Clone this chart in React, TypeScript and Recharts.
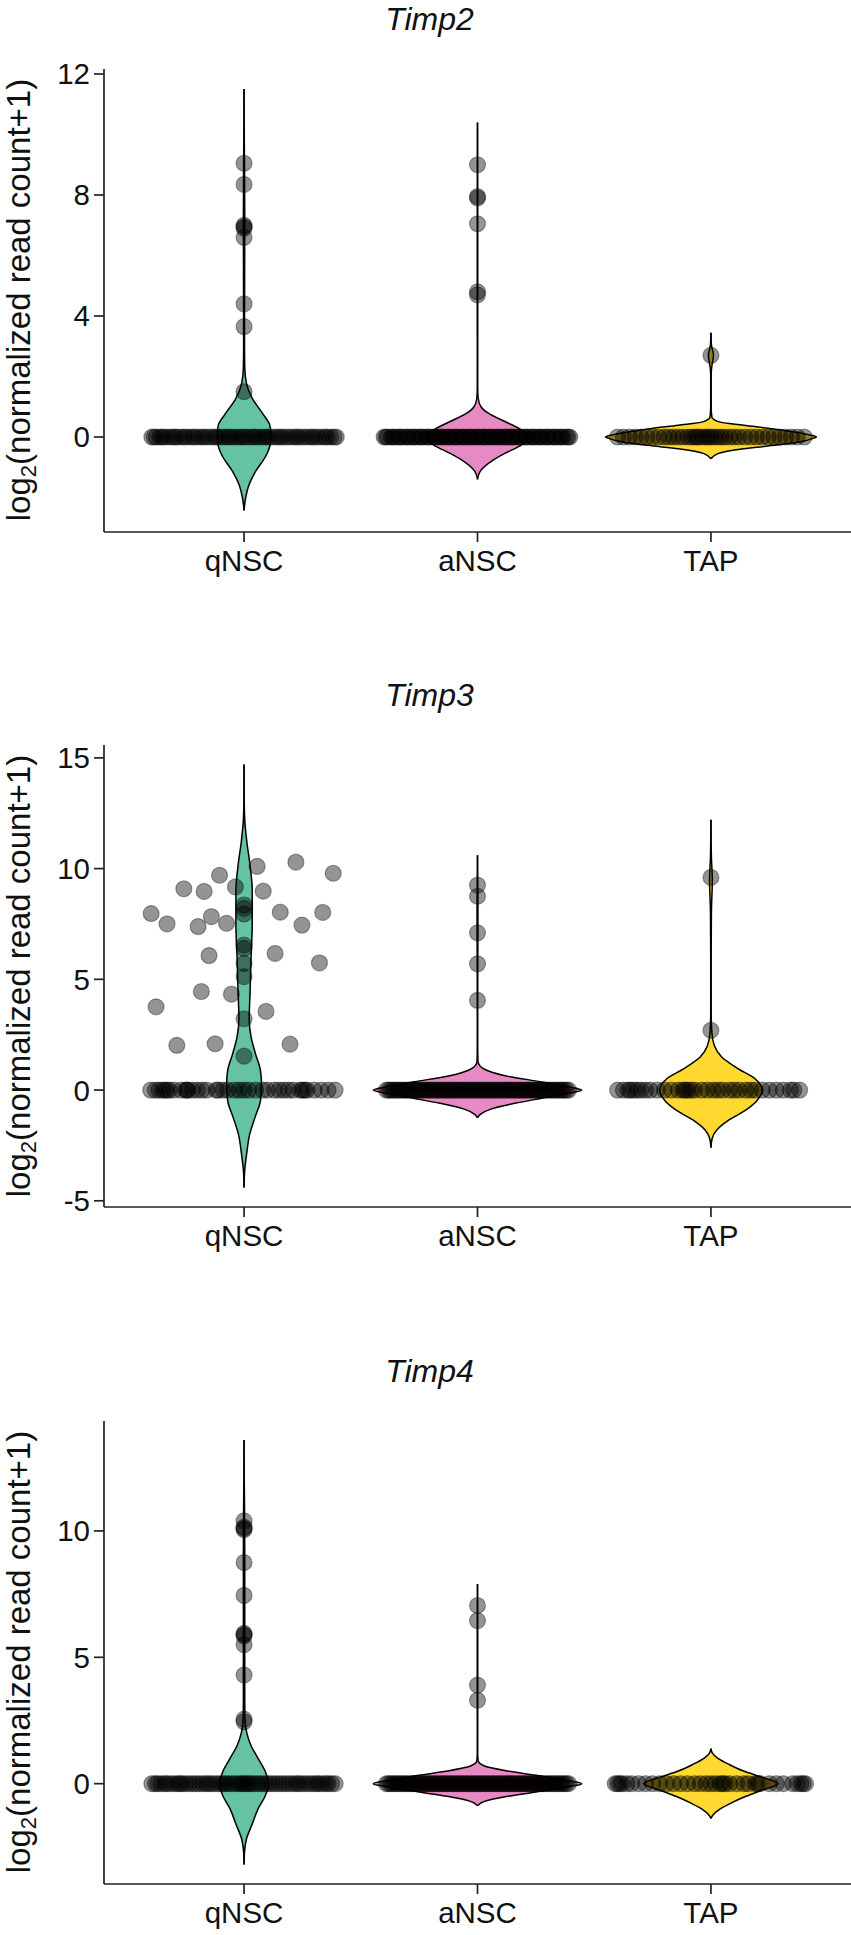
import { ComposedChart, Area, Scatter, XAxis, YAxis } from 'recharts';

const categories = ['qNSC', 'aNSC', 'TAP'];
const positions = [1, 2, 3];
const fills = ['#66c2a5', '#e78ac3', '#ffd92f'];

// each violin: [log2 value, half width in category units]
const timp2Violins = [
  [[-2.43, 0], [-2, 0.007], [-1.63, 0.019], [-1.13, 0.05], [-0.62, 0.094], [-0.2, 0.113], [0.1, 0.115], [0.4, 0.11], [0.77, 0.08], [1.28, 0.035], [1.78, 0.01], [2.3, 0.003], [3, 0.002], [4, 0.002], [7, 0.003], [9, 0.002], [9.8, 0.001], [11.5, 0]],
  [[-1.4, 0], [-1.13, 0.012], [-0.75, 0.07], [-0.55, 0.115], [-0.3, 0.18], [-0.1, 0.215], [0, 0.22], [0.1, 0.215], [0.27, 0.18], [0.52, 0.115], [0.77, 0.05], [1, 0.015], [1.28, 0.003], [1.6, 0.0008], [5, 0.001], [8, 0.001], [10.4, 0]],
  [[-0.72, 0], [-0.55, 0.03], [-0.39, 0.14], [-0.275, 0.27], [-0.13, 0.4], [-0.05, 0.435], [0, 0.452], [0.05, 0.435], [0.13, 0.385], [0.275, 0.26], [0.39, 0.14], [0.5, 0.036], [0.66, 0.004], [1, 0.001], [2, 0.001], [2.3, 0.003], [2.7, 0.011], [3.05, 0.002], [3.45, 0]],
];
const timp2Zero = [
  [-0.395, -0.385, -0.375, -0.36, -0.35, -0.34, -0.325, -0.31, -0.3, -0.29, -0.275, -0.26, -0.25, -0.235, -0.22, -0.21, -0.195, -0.18, -0.17, -0.155, -0.14, -0.125, -0.115, -0.1, -0.085, -0.07, -0.06, -0.045, -0.03, -0.015, -0.005, 0.01, 0.025, 0.04, 0.05, 0.065, 0.08, 0.095, 0.105, 0.12, 0.135, 0.15, 0.16, 0.175, 0.19, 0.205, 0.22, 0.23, 0.245, 0.26, 0.275, 0.29, 0.3, 0.315, 0.33, 0.345, 0.355, 0.37, 0.385, 0.395],
  [-0.4, -0.385, -0.37, -0.355, -0.34, -0.325, -0.31, -0.295, -0.28, -0.265, -0.25, -0.235, -0.22, -0.205, -0.19, -0.175, -0.16, -0.145, -0.13, -0.115, -0.1, -0.085, -0.07, -0.055, -0.04, -0.025, -0.01, 0.005, 0.02, 0.035, 0.05, 0.065, 0.08, 0.095, 0.11, 0.125, 0.14, 0.155, 0.17, 0.185, 0.2, 0.215, 0.23, 0.245, 0.26, 0.275, 0.29, 0.305, 0.32, 0.335, 0.35, 0.365, 0.38, 0.395, -0.392, -0.362, -0.332, -0.302, -0.272, -0.242, -0.212, -0.182, -0.152, -0.122, -0.092, -0.062, -0.032, -0.002, 0.028, 0.058, 0.088, 0.118, 0.148, 0.178, 0.208, 0.238, 0.268, 0.298, 0.328, 0.358, 0.388],
  [-0.4, -0.375, -0.35, -0.325, -0.3, -0.275, -0.25, -0.225, -0.2, -0.18, -0.16, -0.14, -0.12, -0.1, -0.085, -0.07, -0.06, -0.05, -0.035, -0.02, -0.01, 0, 0.015, 0.03, 0.045, 0.06, 0.08, 0.1, 0.12, 0.145, 0.17, 0.195, 0.22, 0.245, 0.27, 0.295, 0.32, 0.345, 0.37, 0.4],
];
const timp2Upper = [
  [9.05, 8.35, 7, 6.95, 6.9, 6.6, 4.4, 3.65, 1.5],
  [9, 7.95, 7.9, 7.05, 4.8, 4.7],
  [2.7],
];

const timp3Violins = [
  [[-4.4, 0], [-3.6, 0.003], [-2.8, 0.012], [-2, 0.024], [-1.2, 0.048], [-0.5, 0.07], [0.2, 0.075], [0.9, 0.07], [1.6, 0.05], [2.4, 0.03], [3.2, 0.022], [4.5, 0.026], [6, 0.03], [7.5, 0.035], [9, 0.035], [10.2, 0.025], [11.2, 0.012], [12.2, 0.003], [13.2, 0.0006], [14.7, 0]],
  [[-1.25, 0], [-1.1, 0.012], [-0.85, 0.06], [-0.6, 0.16], [-0.38, 0.27], [-0.15, 0.39], [0, 0.447], [0.15, 0.39], [0.38, 0.27], [0.6, 0.14], [0.85, 0.05], [1.1, 0.01], [1.3, 0.002], [2, 0.0008], [5, 0.001], [8, 0.002], [9.5, 0.001], [10.6, 0]],
  [[-2.6, 0], [-2.2, 0.005], [-1.8, 0.025], [-1.4, 0.07], [-1, 0.135], [-0.5, 0.195], [0, 0.22], [0.5, 0.19], [1, 0.11], [1.5, 0.045], [2, 0.015], [2.6, 0.004], [3.5, 0.001], [5, 0.0008], [8, 0.002], [9.5, 0.006], [10.5, 0.002], [12.2, 0]],
];
const timp3Zero = [
  [-0.4, -0.38, -0.365, -0.35, -0.34, -0.33, -0.32, -0.3, -0.27, -0.25, -0.245, -0.24, -0.22, -0.2, -0.18, -0.16, -0.12, -0.11, -0.09, -0.07, -0.04, -0.02, 0, 0.02, 0.05, 0.08, 0.1, 0.13, 0.15, 0.17, 0.19, 0.21, 0.24, 0.25, 0.26, 0.27, 0.3, 0.33, 0.36, 0.39],
  [-0.39, -0.38, -0.37, -0.36, -0.35, -0.34, -0.33, -0.32, -0.31, -0.3, -0.29, -0.28, -0.27, -0.26, -0.25, -0.24, -0.23, -0.22, -0.21, -0.2, -0.19, -0.18, -0.17, -0.16, -0.15, -0.14, -0.13, -0.12, -0.11, -0.1, -0.09, -0.08, -0.07, -0.06, -0.05, -0.04, -0.03, -0.02, -0.01, 0, 0.01, 0.02, 0.03, 0.04, 0.05, 0.06, 0.07, 0.08, 0.09, 0.1, 0.11, 0.12, 0.13, 0.14, 0.15, 0.16, 0.17, 0.18, 0.19, 0.2, 0.21, 0.22, 0.23, 0.24, 0.25, 0.26, 0.27, 0.28, 0.29, 0.3, 0.31, 0.32, 0.33, 0.34, 0.35, 0.36, 0.37, 0.38, 0.39],
  [-0.4, -0.375, -0.355, -0.345, -0.33, -0.315, -0.3, -0.28, -0.26, -0.23, -0.2, -0.17, -0.14, -0.12, -0.11, -0.1, -0.085, -0.07, -0.04, -0.015, 0.01, 0.03, 0.05, 0.08, 0.1, 0.12, 0.15, 0.17, 0.19, 0.22, 0.25, 0.28, 0.31, 0.34, 0.355, 0.38],
];
const timp3ScatterX = [-0.398, -0.33, -0.377, -0.288, -0.258, -0.171, -0.183, -0.197, -0.14, -0.15, -0.124, -0.105, -0.075, -0.054, -0.037, 0, 0, 0, 0, 0, 0, 0, 0, 0, 0.056, 0.082, 0.133, 0.094, 0.155, 0.197, 0.222, 0.248, 0.323, 0.337, 0.382];
const timp3ScatterY = [7.97, 7.5, 3.76, 2.02, 9.09, 8.97, 4.45, 7.38, 7.83, 6.07, 2.09, 9.7, 7.53, 4.33, 9.17, 8.36, 8.2, 7.95, 6.55, 6.4, 5.72, 5.12, 3.22, 1.53, 10.1, 8.98, 6.17, 3.55, 8.03, 2.07, 10.29, 7.45, 5.74, 8.02, 9.79];
const timp3Upper = [
  [9.25, 8.75, 7.1, 5.7, 4.05],
  [9.6, 2.7],
];

const timp4Violins = [
  [[-3.2, 0], [-2.7, 0.002], [-2.2, 0.01], [-1.6, 0.035], [-1, 0.06], [-0.5, 0.09], [0, 0.105], [0.5, 0.09], [1, 0.06], [1.5, 0.03], [2, 0.012], [2.4, 0.005], [3.2, 0.003], [6, 0.003], [9, 0.003], [11, 0.002], [12, 0.0008], [13.6, 0]],
  [[-0.87, 0], [-0.7, 0.03], [-0.5, 0.13], [-0.33, 0.25], [-0.12, 0.39], [0, 0.447], [0.12, 0.39], [0.33, 0.25], [0.5, 0.13], [0.7, 0.03], [0.9, 0.003], [1.2, 0.0008], [4, 0.001], [6, 0.001], [7.9, 0]],
  [[-1.38, 0], [-1.25, 0.008], [-1, 0.04], [-0.75, 0.09], [-0.5, 0.15], [-0.25, 0.22], [0, 0.288], [0.25, 0.22], [0.5, 0.14], [0.75, 0.08], [1, 0.03], [1.2, 0.007], [1.39, 0]],
];
const timp4Zero = [
  [-0.395, -0.38, -0.37, -0.355, -0.34, -0.33, -0.315, -0.3, -0.285, -0.275, -0.265, -0.25, -0.235, -0.22, -0.205, -0.19, -0.175, -0.16, -0.15, -0.135, -0.12, -0.105, -0.09, -0.08, -0.065, -0.05, -0.035, -0.02, -0.01, 0, 0.01, 0.02, 0.03, 0.045, 0.06, 0.075, 0.09, 0.105, 0.12, 0.135, 0.15, 0.165, 0.18, 0.195, 0.21, 0.225, 0.235, 0.25, 0.265, 0.28, 0.295, 0.31, 0.32, 0.335, 0.35, 0.36, 0.375, 0.39],
  timp3Zero[1],
  [-0.41, -0.4, -0.39, -0.38, -0.36, -0.34, -0.31, -0.28, -0.25, -0.22, -0.19, -0.16, -0.13, -0.1, -0.07, -0.045, -0.02, 0, 0.02, 0.04, 0.05, 0.06, 0.08, 0.11, 0.14, 0.16, 0.19, 0.2, 0.21, 0.25, 0.28, 0.31, 0.35, 0.37, 0.385, 0.395, 0.405],
];
const timp4Upper = [
  [10.4, 10.15, 10.1, 10.05, 8.75, 7.45, 5.95, 5.9, 5.85, 5.5, 4.3, 2.55, 2.45],
  [7.05, 6.45, 3.9, 3.3],
  [],
];

function violinData(violins: number[][][], index: number) {
  return violins[index].map(([y, half]) => ({ y, range: [positions[index] - half, positions[index] + half] }));
}

function pointData(zero: number[], upper: number[], index: number) {
  return [
    ...zero.map((offset) => ({ x: positions[index] + offset, y: 0 })),
    ...upper.map((y) => ({ x: positions[index], y })),
  ];
}

function Dot({ cx, cy }: { cx?: number; cy?: number }) {
  return <circle cx={cx} cy={cy} r={8} fill="#000" fillOpacity={0.42} stroke="#000" strokeOpacity={0.35} strokeWidth={1.2} />;
}

interface PanelProps {
  title: string;
  top: number;
  height: number;
  domain: [number, number];
  ticks: number[];
  violins: number[][][];
  points: { x: number; y: number }[][];
}

function Panel({ title, top, height, domain, ticks, violins, points }: PanelProps) {
  const font = 'Liberation Sans, Arial, sans-serif';
  return (
    <div style={{ position: 'absolute', left: 0, top, width: 851, height: height + 70 }}>
      <div style={{ position: 'absolute', left: 0, top: -20 }}>
        <ComposedChart
          layout="vertical"
          width={851}
          height={height + 90}
          margin={{ top: 20, right: 0, bottom: 0, left: 0 }}
        >
          <XAxis
            type="number"
            dataKey="x"
            domain={[0.4, 3.6]}
            ticks={positions}
            tickFormatter={(v: number) => categories[v - 1]}
            allowDataOverflow
            height={70}
            tick={{ fill: '#111', fontSize: 29.5, fontFamily: font }}
            tickSize={10}
            tickMargin={8}
            stroke="#222"
            strokeWidth={1.7}
            interval={0}
          />
          <YAxis
            type="number"
            dataKey="y"
            width={104}
            domain={domain}
            ticks={ticks}
            reversed
            allowDataOverflow
            tick={{ fill: '#111', fontSize: 29.5, fontFamily: font }}
            tickSize={10}
            tickMargin={4}
            stroke="#222"
            strokeWidth={1.7}
            interval={0}
          />
          {violins.map((_, i) => (
            <Area
              key={categories[i]}
              data={violinData(violins, i)}
              dataKey="range"
              type="monotone"
              fill={fills[i]}
              fillOpacity={1}
              stroke="#000"
              strokeWidth={1.5}
              dot={false}
              activeDot={false}
              isAnimationActive={false}
            />
          ))}
          {points.map((pts, i) => (
            <Scatter key={categories[i]} data={pts} shape={<Dot />} isAnimationActive={false} />
          ))}
        </ComposedChart>
      </div>
      <div style={{ position: 'absolute', left: 4, top: -68, width: 851, textAlign: 'center', fontFamily: font, fontSize: 32, lineHeight: '36px', fontStyle: 'italic', color: '#111' }}>
        {title}
      </div>
      <div
        style={{
          position: 'absolute',
          left: 21,
          top: 231,
          transform: 'translate(-50%, -50%) rotate(-90deg)',
          whiteSpace: 'nowrap',
          fontFamily: font,
          fontSize: 33,
          color: '#111',
        }}
      >
        log
        <sub style={{ fontSize: 22, verticalAlign: -6 }}>2</sub>
        (normalized read count+1)
      </div>
    </div>
  );
}

const timp2Points = [0, 1, 2].map((i) => pointData(timp2Zero[i], timp2Upper[i], i));
const timp3Points = [
  [
    ...pointData(timp3Zero[0], [], 0),
    ...timp3ScatterX.map((offset, j) => ({ x: positions[0] + offset, y: timp3ScatterY[j] })),
  ],
  pointData(timp3Zero[1], timp3Upper[0], 1),
  pointData(timp3Zero[2], timp3Upper[1], 2),
];
const timp4Points = [0, 1, 2].map((i) => pointData(timp4Zero[i], timp4Upper[i], i));

export default function App() {
  return (
    <div style={{ position: 'absolute', left: 0, top: 0, width: 851, height: 1935, background: '#fff', overflow: 'hidden' }}>
      <Panel title="Timp2" top={69} height={463} domain={[-3.14, 12.165]} ticks={[0, 4, 8, 12]} violins={timp2Violins} points={timp2Points} />
      <Panel title="Timp3" top={745} height={462} domain={[-5.28, 15.58]} ticks={[-5, 0, 5, 10, 15]} violins={timp3Violins} points={timp3Points} />
      <Panel title="Timp4" top={1421} height={463} domain={[-3.97, 14.35]} ticks={[0, 5, 10]} violins={timp4Violins} points={timp4Points} />
    </div>
  );
}
